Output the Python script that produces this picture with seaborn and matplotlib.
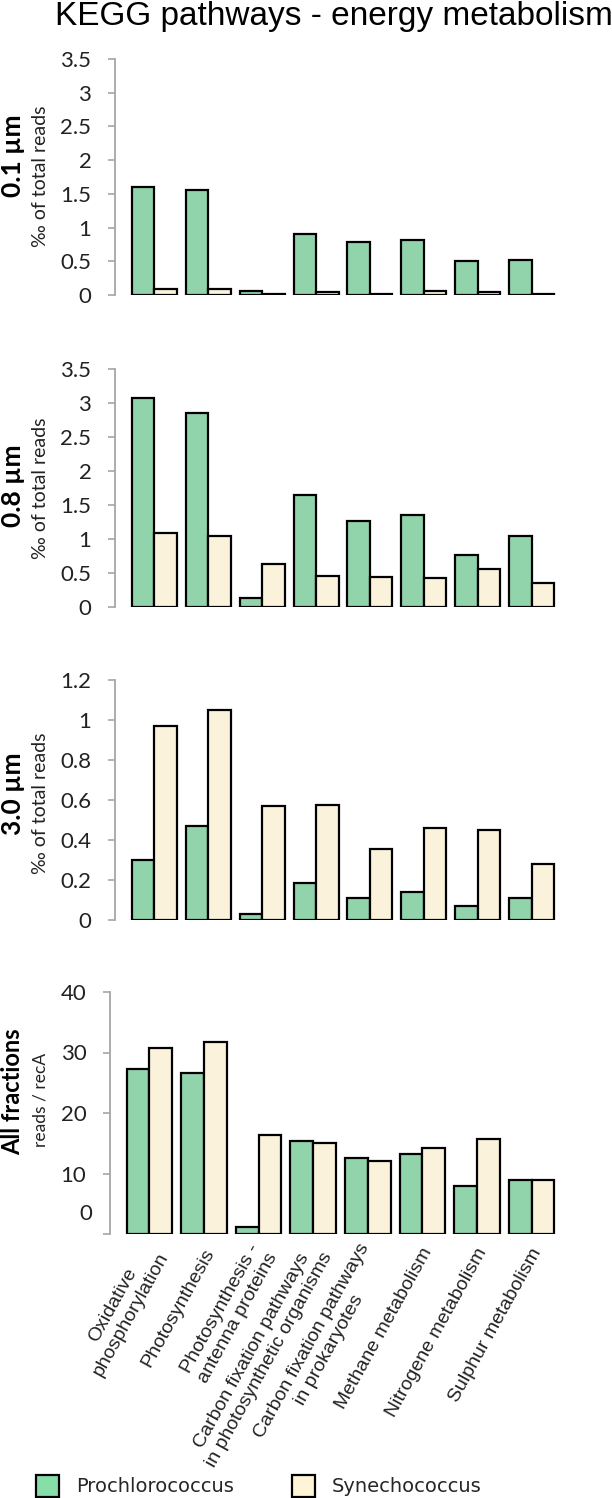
import matplotlib
matplotlib.use("Agg")
import matplotlib.pyplot as plt
import seaborn as sns
import pandas as pd
from matplotlib.patches import Patch
from matplotlib.transforms import ScaledTranslation

sns.set_theme(style="white")
plt.rcParams['font.family'] = ['Lato', 'DejaVu Sans']

pathways = [
    "Oxidative\nphosphorylation",
    "Photosynthesis",
    "Photosynthesis -\nantenna proteins",
    "Carbon fixation pathways\nin photosynthetic organisms",
    "Carbon fixation pathways\nin prokaryotes",
    "Methane metabolism",
    "Nitrogene metabolism",
    "Sulphur metabolism",
]
genera = ["Prochlorococcus", "Synechococcus"]

pro_01 = [1.60, 1.56, 0.064, 0.91, 0.78, 0.82, 0.50, 0.52]
syn_01 = [0.09, 0.09, 0.02, 0.04, 0.02, 0.06, 0.05, 0.01]
pro_08 = [3.08, 2.85, 0.13, 1.64, 1.26, 1.36, 0.77, 1.05]
syn_08 = [1.09, 1.05, 0.63, 0.45, 0.44, 0.42, 0.56, 0.36]
pro_30 = [0.30, 0.47, 0.03, 0.185, 0.11, 0.14, 0.07, 0.11]
syn_30 = [0.97, 1.05, 0.57, 0.575, 0.355, 0.46, 0.45, 0.28]
pro_all = [27.3, 26.6, 1.1, 15.3, 12.5, 13.3, 7.9, 9.0]
syn_all = [30.7, 31.8, 16.4, 15.0, 12.0, 14.2, 15.7, 8.9]

panel_titles = ["0.1 µm", "0.8 µm", "3.0 µm", "All fractions"]
panel_ylabels = ["‰ of total reads", "‰ of total reads", "‰ of total reads", "reads / recA"]
yticks_list = [
    [0, 0.5, 1, 1.5, 2, 2.5, 3, 3.5],
    [0, 0.5, 1, 1.5, 2, 2.5, 3, 3.5],
    [0, 0.2, 0.4, 0.6, 0.8, 1, 1.2],
    [0, 10, 20, 30, 40],
]
ytick_labels_list = [
    ["0", "0.5", "1", "1.5", "2", "2.5", "3", "3.5"],
    ["0", "0.5", "1", "1.5", "2", "2.5", "3", "3.5"],
    ["0", "0.2", "0.4", "0.6", "0.8", "1", "1.2"],
    ["", "10", "20", "30", "40"],
]

colors = {"Prochlorococcus": "#86DEA9", "Synechococcus": "#FFF5D6"}
SPINE = "#A6A6A6"
TXT = "#222222"

W, H = 612, 1498
fig = plt.figure(figsize=(W / 100, H / 100), dpi=100)

# panel boxes in pixels: left, right, top, bottom, xlim-left
boxes = [
    (115, 558.6, 59, 295, -0.73),
    (115, 558.6, 369, 607, -0.73),
    (115, 558.6, 680, 920, -0.73),
    (110, 559, 992, 1234, -0.72),
]
datasets = [(pro_01, syn_01), (pro_08, syn_08), (pro_30, syn_30), (pro_all, syn_all)]

for i, ((l, r, t, b, xl), (p, s)) in enumerate(zip(boxes, datasets)):
    ax = fig.add_axes([l / W, 1 - b / H, (r - l) / W, (b - t) / H])
    df = pd.DataFrame({
        "pathway": pathways * 2,
        "genus": [genera[0]] * len(pathways) + [genera[1]] * len(pathways),
        "value": list(p) + list(s),
    })
    sns.barplot(data=df, x="pathway", y="value", hue="genus", order=pathways,
                hue_order=genera, palette=colors, edgecolor="black",
                linewidth=1.6, width=0.835, ax=ax, legend=False, errorbar=None)
    yt = yticks_list[i]
    ax.set_ylim(0, yt[-1])
    ax.set_xlim(xl, 7.5)
    ax.set_yticks(yt)
    ax.set_yticklabels(ytick_labels_list[i])
    ax.set_xlabel("")
    ax.set_ylabel("")
    for side in ["top", "right", "bottom"]:
        ax.spines[side].set_visible(False)
    ax.spines["left"].set_color(SPINE)
    ax.spines["left"].set_linewidth(1.3)
    ax.tick_params(axis="y", which="major", left=True, length=5, width=1.2,
                   color=SPINE, pad=12, labelsize=16, labelcolor=TXT)
    ax.tick_params(axis="x", bottom=False, length=0)
    if i < 3:
        ax.set_xticks([])
    else:
        ax.set_xticks(range(len(pathways)))
        ax.set_xticklabels(pathways, rotation=61, ha="right", va="center",
                           rotation_mode="anchor", fontsize=14,
                           family="Liberation Sans", color=TXT)
        ax.tick_params(axis="x", pad=11)
        shift = ScaledTranslation(6 / 100, 0, fig.dpi_scale_trans)
        for lab in ax.get_xticklabels():
            lab.set_multialignment("center")
            lab.set_transform(lab.get_transform() + shift)
        ax.annotate("0", xy=(0, 0), xycoords=("axes fraction", "data"),
                    xytext=(-18, 20), textcoords="offset pixels",
                    ha="right", va="center", fontsize=16, color=TXT)
    ax.patch.set_alpha(0)

# y labels
bold_x = 13
lab_x = 40
bold_centers = [156, 486, 794, 1092]
lab_centers = [176, 488, 803, 1100]
for i in range(4):
    fs_b = 19 if i < 3 else 17
    fig.text(bold_x / W, 1 - bold_centers[i] / H, panel_titles[i],
             rotation=90, ha="center", va="center", fontsize=fs_b,
             fontweight="bold", color="black")
    fig.text(lab_x / W, 1 - lab_centers[i] / H, panel_ylabels[i], rotation=90,
             ha="center", va="center", fontsize=14 if i < 3 else 12.5, color=TXT)

fig.text(334 / W, 1 - 17 / H, "KEGG pathways - energy metabolism",
         ha="center", va="center", fontsize=24, family="Liberation Sans",
         color="black")

handles = [Patch(facecolor=colors[g], edgecolor="black", linewidth=1.6) for g in genera]
fig.legend(handles, genera, loc="lower left", bbox_to_anchor=(36 / W, 1 / H),
           ncol=2, frameon=False, handlelength=1.2, handleheight=1.4,
           handletextpad=0.85, columnspacing=3.0, borderpad=0, borderaxespad=0,
           prop={"family": "DejaVu Sans", "size": 14})

fig.savefig("out.png", dpi=100)
